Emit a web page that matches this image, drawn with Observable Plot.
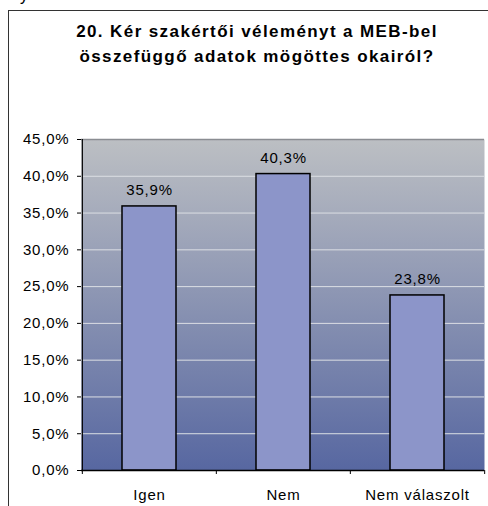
<!DOCTYPE html>
<html><head><meta charset="utf-8">
<script src="https://cdn.jsdelivr.net/npm/d3@7"></script>
<script src="https://cdn.jsdelivr.net/npm/@observablehq/plot@0.6"></script>
<style>
body{margin:0;background:#fff;font-family:"Liberation Sans",Arial,sans-serif;}
#wrap{position:relative;width:488px;height:506px;overflow:hidden;}
#frag{position:absolute;left:20px;top:-13px;font-size:16px;}
#frame{position:absolute;left:8px;top:10px;width:520px;height:520px;border:1px solid #333;}
#title{position:absolute;left:8px;width:498px;top:19px;text-align:center;font-weight:bold;font-size:17px;line-height:25px;letter-spacing:1.4px;color:#000;}
#chart{position:absolute;left:0;top:0;}
</style></head><body>
<div id="wrap">
<div id="frag">y</div>
<div id="frame"></div>
<div id="title">20. Kér szakértői véleményt a MEB-bel<br>összefüggő adatok mögöttes okairól?</div>
<div id="chart"></div>
</div>
<script>
const categories = ["Igen", "Nem", "Nem válaszolt"];
const values = [35.9, 40.3, 23.8];
const yTicks = [0, 5, 10, 15, 20, 25, 30, 35, 40, 45];

const data = categories.map((c, i) => ({cat: c, v: values[i]}));
const W = 488, H = 506, ml = 81, mr = 4, mt = 139, mb = 36;
const step = (W - ml - mr) / categories.length;
const fmt = v => d3.format(".1f")(v).replace(".", ",") + "%";

const defs = () => {
  const s = d3.create("svg:defs");
  const g = s.append("linearGradient").attr("id", "bg")
    .attr("x1", 0).attr("y1", 0).attr("x2", 0).attr("y2", 1);
  g.append("stop").attr("offset", "0%").attr("stop-color", "#bcbfc3");
  g.append("stop").attr("offset", "100%").attr("stop-color", "#5767a1");
  return s.node();
};

const chart = Plot.plot({
  width: W, height: H,
  marginLeft: ml, marginRight: mr, marginTop: mt, marginBottom: mb,
  style: {fontFamily: '"Liberation Sans", Arial, sans-serif', fontSize: "15px", letterSpacing: "0.8px", color: "#000", background: "transparent", overflow: "visible"},
  x: {domain: categories, padding: 0, label: null},
  y: {domain: [0, 45], label: null},
  marks: [
    defs,
    Plot.frame({fill: "url(#bg)", stroke: null}),
    Plot.ruleY(yTicks.filter(t => t > 0 && t < 45), {stroke: "#dcdfe4", strokeWidth: 1}),
    Plot.ruleY([45], {stroke: "#8a8d92", strokeWidth: 1.5}),
    Plot.barY(data, {x: "cat", y: "v", fill: "#8c95c9", stroke: "#000", strokeWidth: 1.5, insetLeft: 40, insetRight: 40}),
    Plot.text(data, {x: "cat", y: "v", text: d => fmt(d.v), dy: -16, fontSize: 15, fill: "#000"}),
    Plot.ruleY([0], {stroke: "#000", strokeWidth: 1.5}),
    Plot.ruleX([categories[0]], {y1: 0, y2: 45, dx: -step / 2, stroke: "#000", strokeWidth: 1.2}),
    Plot.ruleX(categories, {y1: 0, y2: 0, insetBottom: -4, dx: -step / 2, stroke: "#000"}),
    Plot.ruleX([categories[categories.length - 1]], {y1: 0, y2: 0, insetBottom: -4, dx: step / 2, stroke: "#000"}),
    Plot.axisY({ticks: yTicks, tickFormat: fmt, tickSize: 4, tickPadding: 8, fontSize: 15}),
    Plot.axisX({tickSize: 0, tickPadding: 19, fontSize: 15})
  ]
});
document.getElementById("chart").appendChild(chart);
</script>
</body></html>
